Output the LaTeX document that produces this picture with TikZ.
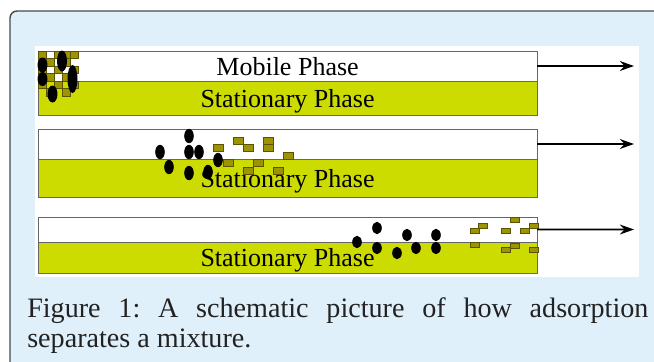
\documentclass[tikz,border=0pt]{standalone}
\usepackage{fontspec}
\setmainfont{Liberation Serif}
\usetikzlibrary{arrows.meta}
\frenchspacing

\definecolor{panelblue}{HTML}{DFF0FB}
\definecolor{framegray}{HTML}{4A4A4A}
\definecolor{stationgreen}{HTML}{CCDC00}
\definecolor{grainolive}{HTML}{9E9300}
\definecolor{grainedge}{HTML}{5A5300}
\definecolor{captiongray}{HTML}{222222}

\tikzset{
  mobile/.style={draw=gray!80!black, fill=white, line width=0.6pt, minimum width=12.475cm,
    inner sep=0pt, outer sep=0pt, text depth=0pt, anchor=north west, font=\fontsize{18.5}{20}\selectfont},
  stationary/.style={mobile, fill=stationgreen},
  grain/.style={draw=grainedge, fill=grainolive, line width=0.5pt},
  blob/.style={fill=black},
  flow/.style={line width=1.4pt, -{Stealth[length=10pt,width=7pt]}},
  caption/.style={anchor=base west, inner sep=0pt, text=captiongray, font=\fontsize{20}{24}\selectfont}
}

\begin{document}
\begin{tikzpicture}[x=0.025cm, y=-0.025cm]
    \useasboundingbox (0,0) rectangle (654,362);

    % Frame
    \draw[framegray, fill=panelblue, line width=1pt, rounded corners=5pt] (10,11) rectangle (690,420);
    \fill[white] (35,46) rectangle (639,277);

    % Nodes
    \node[mobile, minimum height=0.75cm] (mob1) at (38,51) {Mobile Phase};
    \node[stationary, minimum height=0.85cm] (sta1) at (38,81) {Stationary Phase};
    \node[mobile, minimum height=0.75cm] (mob2) at (38,129) {};
    \node[stationary, minimum height=0.95cm] (sta2) at (38,159) {Stationary Phase};
    \node[mobile, minimum height=0.625cm] (mob3) at (38,217) {};
    \node[stationary, minimum height=0.775cm] (sta3) at (38,242) {Stationary Phase};

    \coordinate (tip1) at (634,66);
    \coordinate (tip2) at (634,144);
    \coordinate (tip3) at (634,229.5);

    % Mixture at the start
    \foreach \c/\r in {0/0,2/0,3/0,4/0,1/1,3/1,0/2,2/2,4/2,1/3,3/3,0/4,2/4,4/4,1/5,3/5}
        \draw[grain] ({38+8*\c},{51+7.5*\r}) rectangle ++(8,7.5);
    \foreach \x/\y/\w/\h in {42.5/65/10/15, 42.5/79/10/14, 62/61/10/21, 72.5/79/10/28, 52.5/94/10/17}
        \fill[blob] (\x,\y) ellipse [x radius=\w*0.0125cm, y radius=\h*0.0125cm];

    % Partly separated
    \foreach \x/\y in {213/144, 233/137, 243/144, 263/137, 263/144, 283/152, 223/159, 253/159, 243/167, 273/167}
        \draw[grain] (\x,\y) rectangle ++(10,7.5);
    \foreach \x/\y in {160/152, 169/167, 189/136, 189/152, 199/152, 189/173, 208/172, 218/160}
        \fill[blob] (\x,\y) ellipse [x radius=0.12cm, y radius=0.18cm];

    % Separated
    \foreach \x/\y in {470/228, 478/223, 501/228, 510/217, 520/228, 529/223, 470/242, 501/247, 510/243, 529/247}
        \draw[grain] (\x,\y) rectangle ++(9,5.5);
    \foreach \x/\y in {357/242, 377/228, 377/248, 397/253, 407/235, 416/248, 436/235, 436/248}
        \fill[blob] (\x,\y) ellipse [x radius=0.12cm, y radius=0.155cm];

    % Edges
    \draw[flow] (mob1.east) -- (tip1);
    \draw[flow] (mob2.east) -- (tip2);
    \draw[flow] (mob3.east) -- (tip3);

    % Caption
    \node[caption] (cap1) at (27,317) {\makebox[15.525cm][s]{Figure 1: A schematic picture of how adsorption}};
    \node[caption] (cap2) at (27,347) {separates a mixture.};

\end{tikzpicture}
\end{document}
